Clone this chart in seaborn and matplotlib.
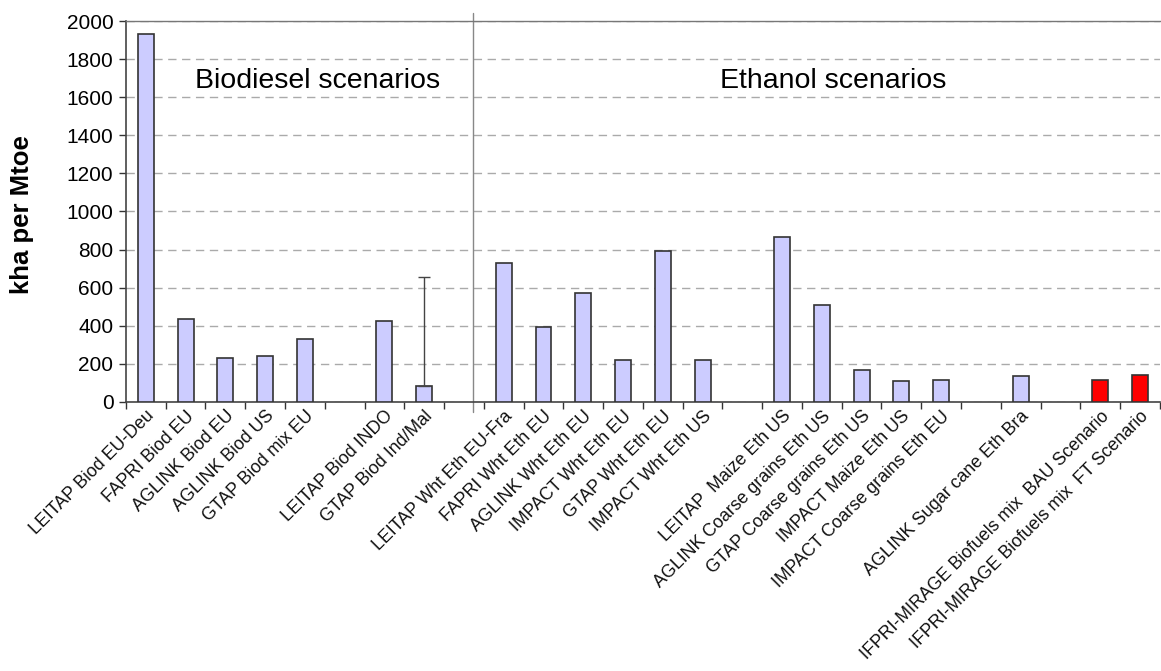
import pandas as pd
import matplotlib
matplotlib.use("Agg")
import matplotlib.pyplot as plt
import seaborn as sns

# categories (blank slots are gaps between model groups)
labels = [
    "LEITAP Biod EU-Deu", "FAPRI Biod EU", "AGLINK Biod EU", "AGLINK Biod US",
    "GTAP Biod mix EU", " ", "LEITAP Biod INDO", "GTAP Biod Ind/Mal", "  ",
    "LEITAP Wht Eth EU-Fra", "FAPRI Wht Eth EU", "AGLINK Wht Eth EU",
    "IMPACT Wht Eth EU", "GTAP Wht Eth EU", "IMPACT Wht Eth US", "   ",
    "LEITAP  Maize Eth US", "AGLINK Coarse grains Eth US", "GTAP Coarse grains Eth US",
    "IMPACT Maize Eth US", "IMPACT Coarse grains Eth EU", "    ",
    "AGLINK Sugar cane Eth Bra", "     ",
    "IFPRI-MIRAGE Biofuels mix  BAU Scenario", "IFPRI-MIRAGE Biofuels mix  FT Scenario",
]

scenarios = [
    "LEITAP Biod EU-Deu", "FAPRI Biod EU", "AGLINK Biod EU", "AGLINK Biod US",
    "GTAP Biod mix EU", "LEITAP Biod INDO", "GTAP Biod Ind/Mal",
    "LEITAP Wht Eth EU-Fra", "FAPRI Wht Eth EU", "AGLINK Wht Eth EU",
    "IMPACT Wht Eth EU", "GTAP Wht Eth EU", "IMPACT Wht Eth US",
    "LEITAP  Maize Eth US", "AGLINK Coarse grains Eth US", "GTAP Coarse grains Eth US",
    "IMPACT Maize Eth US", "IMPACT Coarse grains Eth EU",
    "AGLINK Sugar cane Eth Bra",
    "IFPRI-MIRAGE Biofuels mix  BAU Scenario", "IFPRI-MIRAGE Biofuels mix  FT Scenario",
]
kha_per_mtoe = [1930, 438, 229, 241, 330, 426, 84,
                729, 394, 572, 223, 792, 223,
                864, 509, 166, 108, 117,
                134, 115, 140]
source = ["other"] * 19 + ["ifpri"] * 2

# error bar on GTAP Biod Ind/Mal (upper end only)
err_label = "GTAP Biod Ind/Mal"
err_upper = 656

df = pd.DataFrame({"scenario": scenarios, "value": kha_per_mtoe, "source": source})

sns.set_style("white")
plt.rcParams["font.family"] = ["Liberation Sans", "DejaVu Sans"]
plt.rcParams["text.color"] = "black"
plt.rcParams["xtick.color"] = "black"
plt.rcParams["ytick.color"] = "black"

fig = plt.figure(figsize=(11.61, 6.71), dpi=100)
ax = fig.add_axes([0.1085, 0.4009, 0.8905, 0.5678])

sns.barplot(data=df, x="scenario", y="value", hue="source", order=labels,
            palette={"other": "#CCCCFF", "ifpri": "#FF0000"}, dodge=False,
            saturation=1, width=0.4, edgecolor="#333333", linewidth=1.2,
            legend=False, ax=ax, zorder=3)

# error bar
xi = labels.index(err_label)
yv = kha_per_mtoe[scenarios.index(err_label)]
ax.errorbar([xi], [yv], yerr=[[0], [err_upper - yv]], fmt="none",
            ecolor="#444444", elinewidth=1, capsize=4, capthick=1, zorder=4)

ax.set_ylim(0, 2000)
ax.set_xlim(-0.5, len(labels) - 0.5)
ax.set_yticks(range(0, 2001, 200))
ax.tick_params(axis="y", labelsize=15, length=5, width=1, color="#333333",
               labelcolor="black", direction="out", left=True, pad=4)
ax.yaxis.grid(True, linestyle=(0, (6, 4)), color="#AAAAAA", linewidth=1)
ax.set_axisbelow(True)

ax.set_xticks(range(len(labels)))
ax.set_xticklabels(labels, rotation=45, ha="right", va="top",
                   rotation_mode="anchor", fontsize=12.8, color="#111111")
ax.tick_params(axis="x", length=0, pad=4)
ax.set_xticks([i - 0.5 for i in range(len(labels) + 1)], minor=True)
ax.tick_params(axis="x", which="minor", length=5, width=1, color="#333333",
               direction="out", bottom=True)
ax.set_xlabel("")
ax.set_ylabel("")

for side in ["left", "bottom"]:
    ax.spines[side].set_color("#444444")
    ax.spines[side].set_linewidth(1.2)
ax.spines["top"].set_color("#777777")
ax.spines["top"].set_linewidth(1)
ax.spines["right"].set_visible(False)

# divider between biodiesel and ethanol groups
ax.axvline(8.225, ymin=-0.025, ymax=1.02, color="#888888", linewidth=1,
           clip_on=False, zorder=2)

ax.text(4.33, 1686, "Biodiesel scenarios", fontsize=20.5, ha="center", va="center")
ax.text(17.28, 1686, "Ethanol scenarios", fontsize=20.5, ha="center", va="center")

fig.text(0.019, 0.68, "kha per Mtoe", rotation=90, fontsize=18.5,
         fontweight="bold", ha="center", va="center")

fig.savefig("out.png", dpi=100)
